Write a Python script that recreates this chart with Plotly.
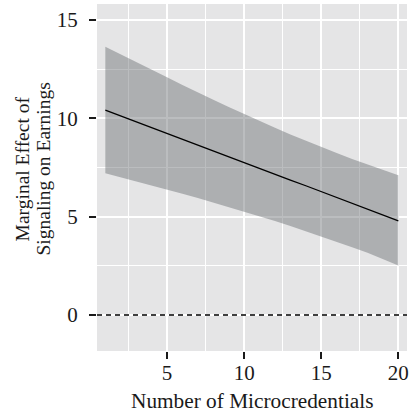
import plotly.graph_objects as go

x_vals = list(range(1, 21))
effect = [10.42, 10.12, 9.83, 9.53, 9.24, 8.94, 8.64, 8.35, 8.05, 7.75,
          7.46, 7.16, 6.86, 6.57, 6.27, 5.98, 5.68, 5.38, 5.09, 4.79]
upper = [13.64, 13.24, 12.85, 12.46, 12.08, 11.69, 11.30, 10.94, 10.57, 10.21,
         9.86, 9.52, 9.18, 8.85, 8.53, 8.23, 7.93, 7.65, 7.37, 7.11]
lower = [7.20, 7.00, 6.80, 6.59, 6.38, 6.17, 5.95, 5.72, 5.50, 5.26,
         5.02, 4.78, 4.53, 4.27, 4.01, 3.73, 3.45, 3.16, 2.84, 2.52]
x_ticks = [5, 10, 15, 20]
y_ticks = [0, 5, 10, 15]
ref_y = 0
y_title_lines = ["Marginal Effect of", "Signaling on Earnings"]
x_title = "Number of Microcredentials"

FONT = "Liberation Serif, Times New Roman, serif"
INK = "#1a1a1a"

fig = go.Figure()
fig.add_trace(go.Scatter(x=x_vals, y=upper, mode="lines", line=dict(width=0),
                         showlegend=False, hoverinfo="skip"))
fig.add_trace(go.Scatter(x=x_vals, y=lower, mode="lines", line=dict(width=0),
                         fill="tonexty", fillcolor="rgba(104,108,112,0.45)",
                         showlegend=False, hoverinfo="skip"))
fig.add_trace(go.Scatter(x=x_vals, y=effect, mode="lines",
                         line=dict(color="black", width=1.3), showlegend=False))
fig.add_hline(y=ref_y, line=dict(color="black", width=1.4, dash="5px,4px"))

fig.update_layout(
    width=415, height=412,
    margin=dict(l=97, r=8, t=4, b=61),
    paper_bgcolor="white",
    plot_bgcolor="#E5E5E6",
    font=dict(family=FONT, size=21, color=INK),
    xaxis=dict(range=[0.46, 20.56], tickvals=x_ticks, ticks="outside", ticklen=7,
               tickwidth=2, tickcolor=INK, showgrid=True, gridcolor="white",
               gridwidth=1.6, zeroline=False, showline=False, automargin=False,
               ticklabelstandoff=-4,
               minor=dict(dtick=2.5, tick0=0, showgrid=True, gridcolor="white", gridwidth=0.8),
               tickfont=dict(family=FONT, size=21, color=INK)),
    yaxis=dict(range=[-1.83, 15.81], tickvals=y_ticks, ticks="outside", ticklen=7,
               tickwidth=2, tickcolor=INK, showgrid=True, gridcolor="white",
               gridwidth=1.6, zeroline=False, showline=False, automargin=False,
               ticklabelstandoff=7,
               minor=dict(dtick=2.5, tick0=0, showgrid=True, gridcolor="white", gridwidth=0.8),
               tickfont=dict(family=FONT, size=21, color=INK)),
)
for xp, line in zip([-0.24, -0.172], y_title_lines):
    fig.add_annotation(text=line, xref="paper", yref="paper",
                       x=xp, y=0.525, xanchor="center", yanchor="middle", textangle=-90,
                       showarrow=False, font=dict(family=FONT, size=19.5, color=INK))
fig.add_annotation(text=x_title, xref="paper", yref="paper",
                   x=0.5, y=-0.144, xanchor="center", yanchor="middle",
                   showarrow=False, font=dict(family=FONT, size=21.3, color=INK))

fig.write_html("out.html", config={"displayModeBar": False},
               post_script="document.body.style.margin='0';document.body.style.overflow='hidden';")
